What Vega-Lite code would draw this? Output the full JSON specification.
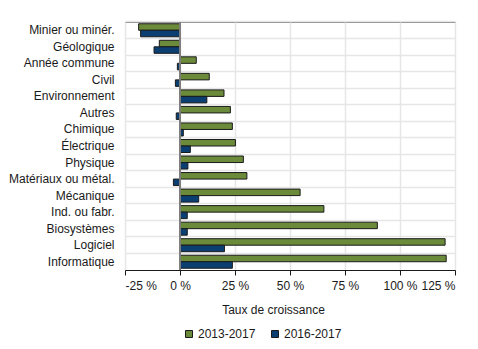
{
  "$schema": "https://vega.github.io/schema/vega-lite/v6.json",
  "width": 330,
  "height": 248,
  "autosize": "none",
  "padding": {"left": 125, "top": 22, "right": 23, "bottom": 79},
  "background": "white",
  "config": {
    "font": "Liberation Sans",
    "view": {"stroke": "#7f7f7f", "strokeWidth": 1}
  },
  "data": {
    "values": [
      {"cat": "Minier ou minér.", "serie": "2013-2017", "taux": -18.8},
      {"cat": "Minier ou minér.", "serie": "2016-2017", "taux": -17.9},
      {"cat": "Géologique", "serie": "2013-2017", "taux": -9.4},
      {"cat": "Géologique", "serie": "2016-2017", "taux": -11.8},
      {"cat": "Année commune", "serie": "2013-2017", "taux": 7.4},
      {"cat": "Année commune", "serie": "2016-2017", "taux": -1.2},
      {"cat": "Civil", "serie": "2013-2017", "taux": 13.3},
      {"cat": "Civil", "serie": "2016-2017", "taux": -2.1},
      {"cat": "Environnement", "serie": "2013-2017", "taux": 20.0},
      {"cat": "Environnement", "serie": "2016-2017", "taux": 12.2},
      {"cat": "Autres", "serie": "2013-2017", "taux": 22.9},
      {"cat": "Autres", "serie": "2016-2017", "taux": -1.7},
      {"cat": "Chimique", "serie": "2013-2017", "taux": 23.8},
      {"cat": "Chimique", "serie": "2016-2017", "taux": 1.5},
      {"cat": "Électrique", "serie": "2013-2017", "taux": 25.2},
      {"cat": "Électrique", "serie": "2016-2017", "taux": 4.7},
      {"cat": "Physique", "serie": "2013-2017", "taux": 28.8},
      {"cat": "Physique", "serie": "2016-2017", "taux": 3.6},
      {"cat": "Matériaux ou métal.", "serie": "2013-2017", "taux": 30.4},
      {"cat": "Matériaux ou métal.", "serie": "2016-2017", "taux": -3.0},
      {"cat": "Mécanique", "serie": "2013-2017", "taux": 54.6},
      {"cat": "Mécanique", "serie": "2016-2017", "taux": 8.5},
      {"cat": "Ind. ou fabr.", "serie": "2013-2017", "taux": 65.4},
      {"cat": "Ind. ou fabr.", "serie": "2016-2017", "taux": 3.3},
      {"cat": "Biosystèmes", "serie": "2013-2017", "taux": 89.7},
      {"cat": "Biosystèmes", "serie": "2016-2017", "taux": 3.3},
      {"cat": "Logiciel", "serie": "2013-2017", "taux": 120.5},
      {"cat": "Logiciel", "serie": "2016-2017", "taux": 20.2},
      {"cat": "Informatique", "serie": "2013-2017", "taux": 121.0},
      {"cat": "Informatique", "serie": "2016-2017", "taux": 23.8}
    ]
  },
  "layer": [
    {
      "mark": {"type": "bar", "stroke": "#1a1a1a", "strokeWidth": 1},
      "encoding": {
        "y": {
          "field": "cat",
          "type": "nominal",
          "sort": null,
          "scale": {"paddingInner": 0, "paddingOuter": 0},
          "axis": {
            "title": null,
            "domain": false,
            "ticks": false,
            "grid": true,
            "bandPosition": 0,
            "gridColor": "#e6e6e6",
            "gridWidth": 1.5,
            "labelFontSize": 12,
            "labelColor": "#1a1a1a",
            "labelPadding": 11
          }
        },
        "yOffset": {
          "field": "serie",
          "type": "nominal",
          "scale": {"paddingInner": 0, "paddingOuter": 0.27}
        },
        "x": {
          "field": "taux",
          "type": "quantitative",
          "scale": {"domain": [-25, 125], "nice": false},
          "axis": {
            "values": [-25, 0, 25, 50, 75, 100, 125],
            "labelExpr": "datum.value + ' %'",
            "title": "Taux de croissance",
            "titleFontSize": 12,
            "titleFontWeight": "normal",
            "titleColor": "#1a1a1a",
            "titleX": 148,
            "titleY": 39,
            "titleBaseline": "middle",
            "labelFontSize": 12,
            "labelColor": "#1a1a1a",
            "labelPadding": 5,
            "domainColor": "#1a1a1a",
            "tickColor": "#1a1a1a",
            "tickSize": 5,
            "grid": true,
            "gridColor": "#e6e6e6",
            "gridWidth": 1.5
          }
        },
        "color": {
          "field": "serie",
          "type": "nominal",
          "scale": {"domain": ["2013-2017", "2016-2017"], "range": ["#6B8A3A", "#0B3F72"]},
          "legend": {
            "title": null,
            "orient": "none",
            "direction": "horizontal",
            "legendX": 58,
            "legendY": 306,
            "symbolType": "square",
            "symbolSize": 49,
            "symbolStrokeColor": "#1a1a1a",
            "symbolStrokeWidth": 1,
            "labelFontSize": 12,
            "labelColor": "#1a1a1a",
            "labelOffset": 3,
            "columnPadding": 13
          }
        }
      }
    },
    {
      "mark": {"type": "rule", "color": "#7f7f7f", "strokeWidth": 1},
      "encoding": {"x": {"datum": 0, "type": "quantitative"}}
    }
  ]
}
